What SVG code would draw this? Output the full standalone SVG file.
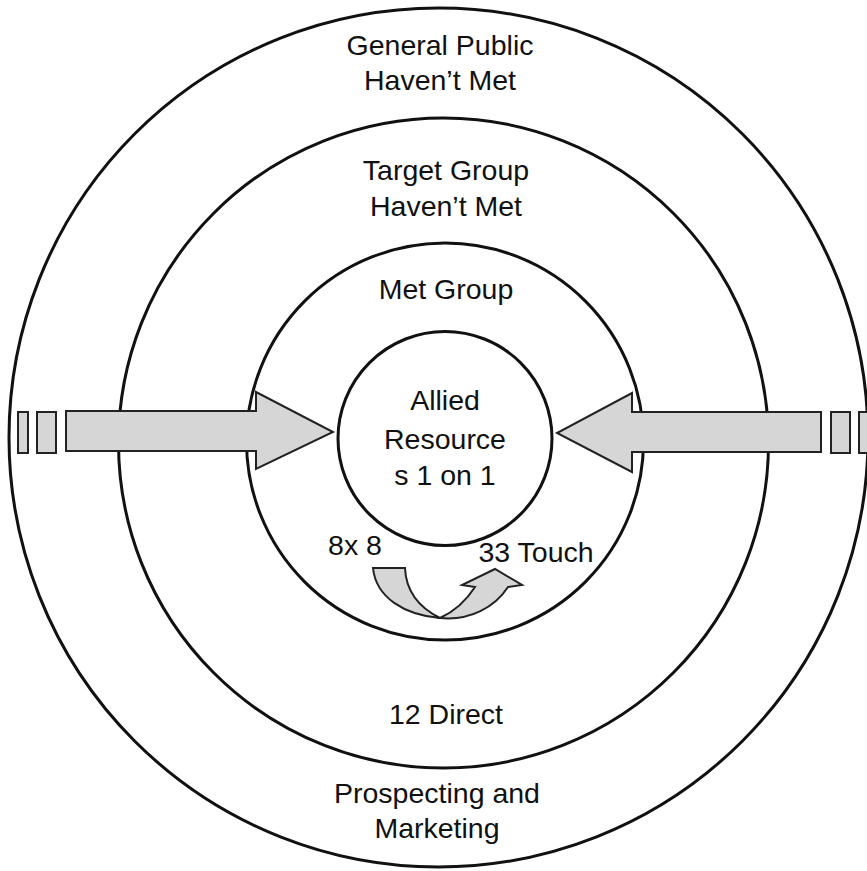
<svg xmlns="http://www.w3.org/2000/svg" width="867" height="871" viewBox="0 0 867 871">
<style>
.ring{fill:none;stroke:#111;stroke-width:3}
.arr{fill:#d6d6d6;stroke:#222;stroke-width:2;stroke-linejoin:miter}
.t{font-family:"Liberation Sans",Arial,sans-serif;font-size:28.5px;fill:#111;text-anchor:middle}
</style>
<rect width="867" height="871" fill="#fff"/>
<g id="ring-general-public">
<circle class="ring" cx="438.5" cy="437.5" r="429.5"/>
<text class="t" x="440" y="55">General Public</text>
<text class="t" x="440" y="90">Haven’t Met</text>
<text class="t" x="437" y="803">Prospecting and</text>
<text class="t" x="437" y="838">Marketing</text>
</g>
<g id="ring-target-group">
<circle class="ring" cx="443.5" cy="443" r="325"/>
<text class="t" x="446" y="180">Target Group</text>
<text class="t" x="446" y="216">Haven’t Met</text>
<text class="t" x="446" y="724">12 Direct</text>
</g>
<g id="ring-met-group">
<circle class="ring" cx="445" cy="441.5" r="198.5"/>
<text class="t" x="446" y="299">Met Group</text>
<text class="t" x="355" y="555">8x 8</text>
<text class="t" x="536" y="562">33 Touch</text>
</g>
<g id="core-allied">
<circle class="ring" cx="445" cy="438.5" r="107"/>
<text class="t" x="445" y="410">Allied</text>
<text class="t" x="445" y="449">Resource</text>
<text class="t" x="445" y="485">s 1 on 1</text>
</g>
<g id="connectors">
<g id="arrow-left">
<rect class="arr" x="18" y="412" width="10" height="41"/>
<rect class="arr" x="37" y="412" width="19" height="41"/>
<path class="arr" d="M66,411 L256,411 L256,392 L333,432 L256,469 L256,451 L66,451 Z"/>
</g>
<g id="arrow-right">
<rect class="arr" x="831" y="412" width="19" height="41"/>
<rect class="arr" x="859" y="412" width="19" height="41"/>
<path class="arr" d="M821,412 L632,412 L632,393 L557,433 L632,472 L632,452 L821,452 Z"/>
</g>
<g id="curved-arrow">
<path class="arr" d="M373,568 L405,568 C406,592 420,608 440,618 C405,615 376,598 373,568 Z"/>
<path class="arr" d="M440,618 C470,621 495,607 508,587 L522,585 L495,569 L462,585 L475,587 C466,601 453,612 440,618 Z"/>
</g>
</g>
</svg>
